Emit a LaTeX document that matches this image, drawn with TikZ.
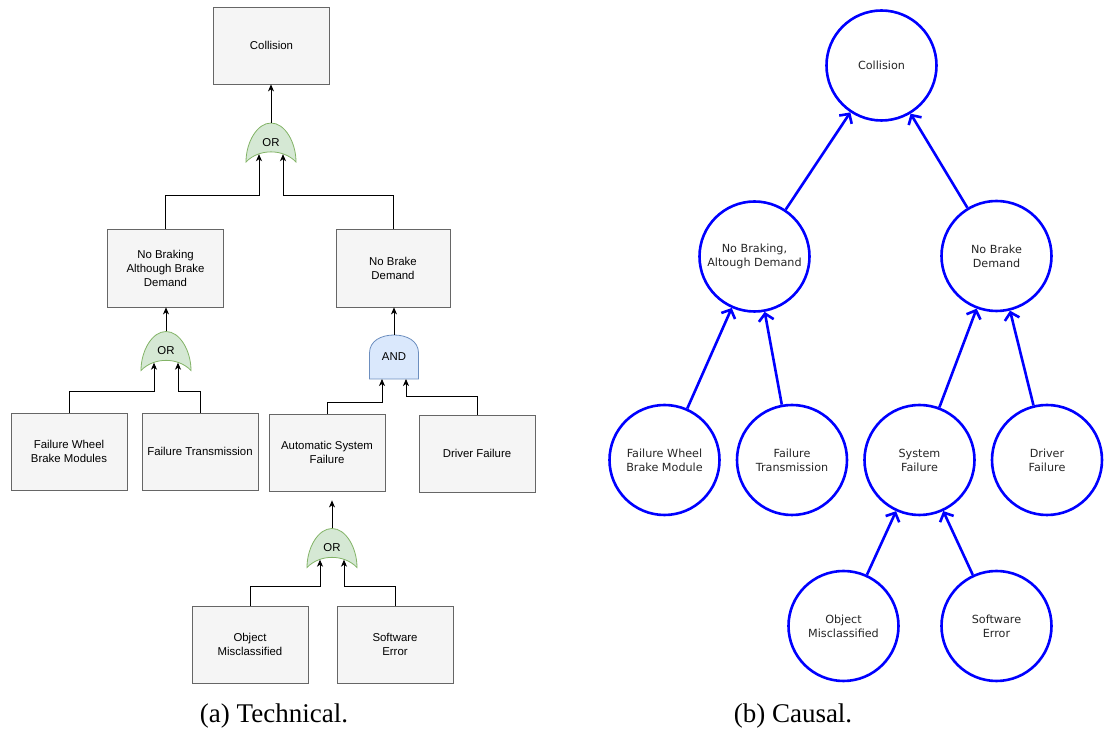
\documentclass[tikz,border=0pt]{standalone}
\usepackage{fontspec}
\setmainfont{Liberation Serif}
\newfontfamily\boxfont{Liberation Sans}
\newfontfamily\circfont{DejaVu Sans}
\usetikzlibrary{arrows.meta}% Stealth and Straight Barb tips
\definecolor{boxfill}{HTML}{F5F5F5}
\definecolor{boxline}{HTML}{666666}
\definecolor{orfill}{HTML}{D5E8D4}
\definecolor{orline}{HTML}{82B366}
\definecolor{andfill}{HTML}{DAE8FC}
\definecolor{andline}{HTML}{6C8EBF}
\tikzset{every node/.style={font=\boxfont\fontsize{11.4}{14}\selectfont},
  event/.style={draw=boxline, fill=boxfill, line width=0.8pt, minimum width=116pt,
    minimum height=77pt, inner sep=0pt, align=center},
  conn/.style={line width=0.8pt, -{Stealth[length=7pt,width=6pt,inset=2pt]}},
  cnode/.style={circle, draw=blue, line width=2.6pt, minimum size=110pt, inner sep=0pt,
    align=center, text=black!85, font=\circfont\fontsize{11.2}{14}\selectfont},
  carrow/.style={blue, line width=2.6pt, -{Straight Barb[length=7pt,width=15pt]}},
  caption/.style={anchor=base, font=\fontsize{27}{30}\selectfont},
  orgate/.pic={
    \path[draw=orline, fill=orfill, line width=0.8pt] (-25,-19.5)
      .. controls (-25,0) and (-14,19.5) .. (0,19.5)
      .. controls (14,19.5) and (25,0) .. (25,-19.5)
      .. controls (12,-6) and (-12,-6) .. cycle;
    \node (-lbl) at (0,0) {OR};
    \coordinate (-out) at (0,19.5);
    \coordinate (-inl) at (-12,-11.7);
    \coordinate (-inr) at (12,-11.7);
  },
  andgate/.pic={
    \path[draw=andline, fill=andfill, line width=0.8pt] (-24.5,-22) -- (-24.5,4)
      .. controls (-24.5,16) and (-13,22) .. (0,22)
      .. controls (13,22) and (24.5,16) .. (24.5,4) -- (24.5,-22) -- cycle;
    \node (-lbl) at (0,0) {AND};
    \coordinate (-out) at (0,22);
    \coordinate (-inl) at (-12,-22);
    \coordinate (-inr) at (12,-22);
  }}

\begin{document}
\begin{tikzpicture}[x=1pt, y=1pt]
  \useasboundingbox (0,0) rectangle (1109,736);
  % (a) technical: fault tree
  \node[event] (coll) at (271.5,690.5) {Collision};
  \node[event, minimum height=78pt] (nobrk) at (165.5,468) {No Braking\\Although Brake\\Demand};
  \node[event, minimum width=114pt, minimum height=78pt] (nodem) at (393,468) {No Brake\\Demand};
  \node[event] (fwbm) at (69,284.5) {Failure Wheel\\Brake Modules};
  \node[event] (ftr) at (200,284.5) {Failure Transmission};
  \node[event] (asf) at (327,283.5) {Automatic System\\Failure};
  \node[event] (drv) at (477,282.5) {Driver Failure};
  \node[event] (obj) at (250,91.5) {Object\\Misclassified};
  \node[event] (sw) at (395,91.5) {Software\\Error};
  \pic (g1) at (271,593.5) {orgate};
  \pic (g2) at (166,385) {orgate};
  \pic (g3) at (332,188) {orgate};
  \pic (g4) at (394,379) {andgate};
  \draw[conn] (g1-out) -- (g1-out |- coll.south);
  \draw[conn] (g2-out) -- (g2-out |- nobrk.south);
  \draw[conn] (g4-out) -- (g4-out |- nodem.south);
  \draw[conn, shorten >=9pt] (g3-out) -- (g3-out |- asf.south);
  \draw[conn] (nobrk.north) -- ++(0,33) -| (g1-inl);
  \draw[conn] (nodem.north) -- ++(0,33) -| (g1-inr);
  \draw[conn] (fwbm.north) -- ++(0,21) -| (g2-inl);
  \draw[conn] (ftr.north) -- ++(0,21) -| (g2-inr);
  \draw[conn] (asf.north) -- ++(0,11) -| (g4-inl);
  \draw[conn] (drv.north) -- ++(0,18) -| (g4-inr);
  \draw[conn] (obj.north) -- ++(0,19) -| (g3-inl);
  \draw[conn] (sw.north) -- ++(0,19) -| (g3-inr);
  \node[caption] (capa) at (274,13) {(a) Technical.};
  % (b) causal: graph of causes
  \node[cnode] (cc) at (881.5,670.5) {Collision};
  \node[cnode] (cnb) at (754.5,479.5) {No Braking,\\Altough Demand};
  \node[cnode] (cnd) at (996.5,480) {No Brake\\Demand};
  \node[cnode] (cfw) at (664.5,276) {Failure Wheel\\Brake Module};
  \node[cnode] (cft) at (792,276) {Failure\\Transmission};
  \node[cnode] (csf) at (919.5,276) {System\\Failure};
  \node[cnode] (cdf) at (1047,276) {Driver\\Failure};
  \node[cnode] (cob) at (843.5,110) {Object\\Misclassified};
  \node[cnode] (cse) at (996.5,110) {Software\\Error};
  \foreach \a/\b in {cnb/cc, cnd/cc, cfw/cnb, cft/cnb, csf/cnd, cdf/cnd, cob/csf, cse/csf}
    \draw[carrow] (\a) -- (\b);
  \node[caption] (capb) at (793,13) {(b) Causal.};
\end{tikzpicture}
\end{document}
